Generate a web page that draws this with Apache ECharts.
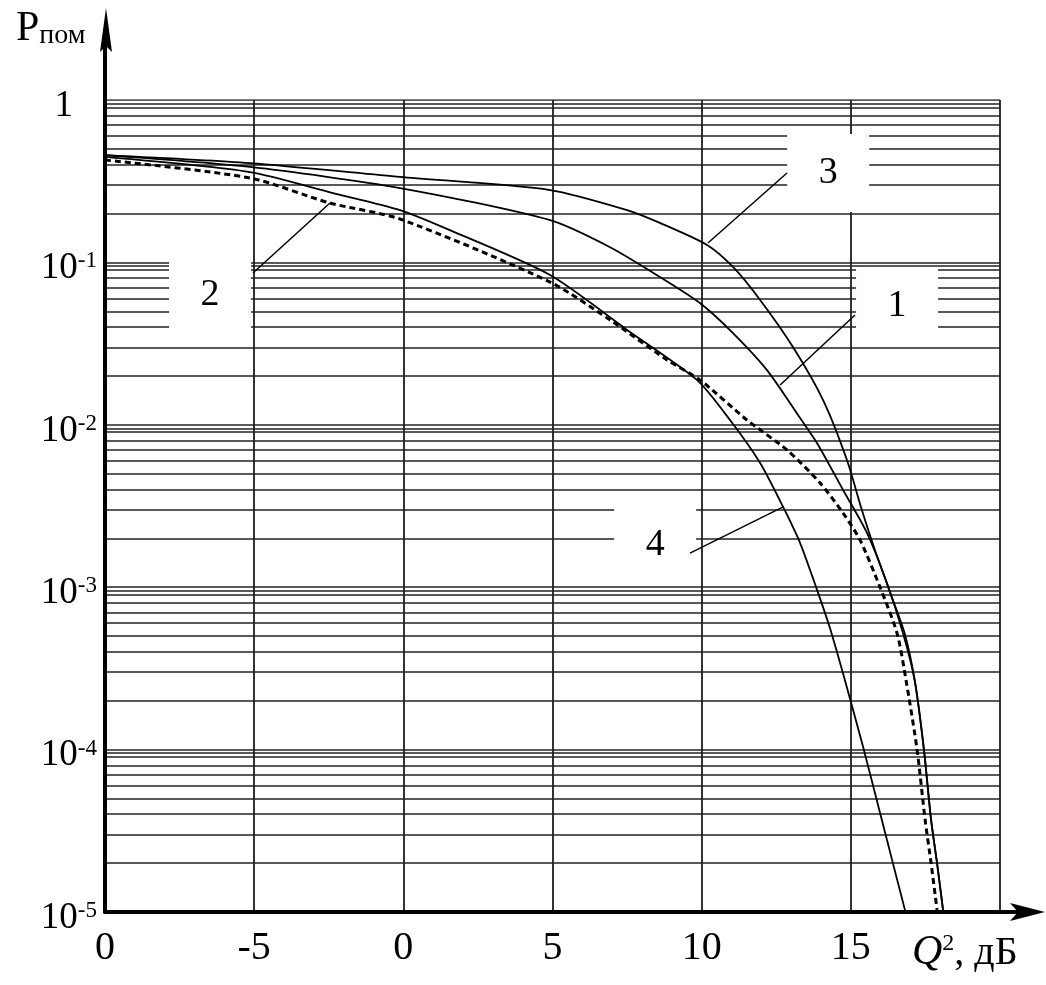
<!DOCTYPE html>
<html>
<head>
<meta charset="utf-8">
<script src="https://cdn.jsdelivr.net/npm/echarts@6/dist/echarts.min.js"></script>
<style>
  html, body { margin: 0; padding: 0; background: #fff; }
  #main { width: 1046px; height: 985px; }
</style>
</head>
<body>
<div id="main"></div>
<script>
// x ticks (as printed on the original, the first one is cut)
const xTickLabels = ['0', '-5', '0', '5', '10', '15', '']
const yTickLabels = ['10{s|-5}', '10{s|-4}', '10{s|-3}', '10{s|-2}', '10{s|-1}', '1{e|}']
const gridMultipliers = [2, 3, 4, 5, 6, 7, 8, 9, 9.5]

// curve 1 (solid, middle)
const curve1X = [-10, -5.14, -0.11, 4.92, 6.93, 8.6, 9.94, 11.05, 12.19, 13.3, 13.87, 14.74, 15.54, 16.21, 16.75, 17.15, 17.45, 17.69, 17.89, 18.09]
const curve1P = [0.458, 0.387, 0.287, 0.182, 0.124, 0.0813, 0.0562, 0.0367, 0.0217, 0.011, 0.0077, 0.00397, 0.00216, 0.00106, 5.2e-4, 2.61e-4, 1.0e-4, 3.69e-5, 2.0e-5, 1.03e-5]
// curve 2 (dashed)
const curve2X = [-10, -5.14, -2.46, -0.11, 4.92, 6.93, 8.84, 9.94, 11.52, 12.86, 13.97, 14.74, 15.31, 15.98, 16.55, 16.85, 17.22, 17.49, 17.69, 17.89]
const curve2P = [0.427, 0.331, 0.232, 0.185, 0.0757, 0.0442, 0.0251, 0.0189, 0.0107, 0.007, 0.00438, 0.00286, 0.00195, 0.001, 5.2e-4, 2.68e-4, 1.0e-4, 3.69e-5, 2.0e-5, 1.03e-5]
// curve 3 (solid, top)
const curve3X = [-10, -5.14, -0.11, 4.92, 7.5, 8.6, 10.18, 11.05, 11.96, 13.06, 14.07, 14.87, 15.37, 15.81, 16.41, 16.82, 17.15, 17.45, 17.69, 17.89, 18.09]
const curve3P = [0.458, 0.409, 0.336, 0.279, 0.21, 0.175, 0.128, 0.0937, 0.0587, 0.0301, 0.0142, 0.00607, 0.00299, 0.00169, 8.34e-4, 5.08e-4, 2.61e-4, 1.0e-4, 3.69e-5, 2.0e-5, 1.03e-5]
// curve 4 (solid, lowest)
const curve4X = [-10, -5.14, -2.36, -0.11, 1.56, 4.92, 7.5, 9.84, 10.95, 11.96, 12.73, 13.3, 13.87, 14.3, 14.8, 15.41, 15.98, 16.41, 16.82]
const curve4P = [0.446, 0.36, 0.2675, 0.21, 0.158, 0.0836, 0.0384, 0.0189, 0.0107, 0.00582, 0.00312, 0.00187, 9.6e-4, 5.6e-4, 2.68e-4, 1.04e-4, 4.07e-5, 2.0e-5, 1.02e-5]

// curve number boxes and their leader lines
const boxText = ['2', '3', '1', '4']
const boxX = [-6.48, 14.24, 16.55, 8.44]
const boxP = [0.063, 0.355, 0.0539, 0.00182]
const leaderFromX = [-5.04, 12.86, 15.14, 9.61]
const leaderFromP = [0.0861, 0.355, 0.0474, 0.00162]
const leaderToX = [-2.46, 10.21, 12.63, 12.73]
const leaderToP = [0.232, 0.1317, 0.0176, 0.00312]

const FONT = 'Liberation Serif'

const yGridValues = []
for (let e = -5; e <= 0; e++) {
  yGridValues.push(Math.pow(10, e))
  if (e < 0) {
    gridMultipliers.forEach(m => yGridValues.push(m * Math.pow(10, e)))
  }
}

const pairs = (xs, ps) => xs.map((x, i) => [x, ps[i]])

function curve(name, xs, ps, dashed) {
  return {
    name: name,
    type: 'line',
    z: 5,
    data: pairs(xs, ps),
    showSymbol: false,
    smooth: 0.25,
    silent: true,
    lineStyle: dashed
      ? { color: '#000', width: 3, type: [6, 4] }
      : { color: '#000', width: 1.8 }
  }
}

const chart = echarts.init(document.getElementById('main'))

chart.setOption({
  animation: false,
  backgroundColor: '#fff',
  grid: { left: 105, right: 46, top: 100, bottom: 73, containLabel: false },
  xAxis: {
    type: 'value',
    min: -10,
    max: 20,
    interval: 5,
    axisLine: { show: true, onZero: false, lineStyle: { color: '#000', width: 4 } },
    axisTick: { show: false },
    splitLine: { show: true, lineStyle: { color: '#333', width: 2 } },
    axisLabel: {
      margin: 16,
      fontFamily: FONT,
      fontSize: 40,
      color: '#000',
      formatter: v => xTickLabels[Math.round((v + 10) / 5)]
    }
  },
  yAxis: {
    type: 'log',
    logBase: 10,
    min: 1e-5,
    max: 1,
    interval: 1,
    axisLine: { show: true, onZero: false, lineStyle: { color: '#000', width: 4 } },
    axisTick: { show: false },
    splitLine: { show: false },
    axisLabel: {
      margin: 8,
      fontFamily: FONT,
      fontSize: 37,
      color: '#000',
      padding: [12, 0, 0, 0],
      formatter: v => yTickLabels[Math.round(Math.log10(v)) + 5],
      rich: {
        s: { fontFamily: FONT, fontSize: 23, verticalAlign: 'top', color: '#000', padding: [0, 0, 14, 0] },
        e: { width: 24 }
      }
    }
  },
  series: [
    {
      name: 'grid',
      type: 'lines',
      coordinateSystem: 'cartesian2d',
      z: 1,
      silent: true,
      lineStyle: { color: '#222', width: 1.6, opacity: 1 },
      data: yGridValues.map(v => ({ coords: [[-10, v], [20, v]] }))
    },
    {
      name: 'boxes',
      type: 'scatter',
      z: 3,
      silent: true,
      symbol: 'rect',
      symbolSize: [82, 78],
      itemStyle: { color: '#fff', opacity: 1 },
      label: {
        show: true,
        position: 'inside',
        fontFamily: FONT,
        fontSize: 38,
        color: '#000',
        formatter: p => p.name
      },
      data: boxX.map((x, i) => ({ name: boxText[i], value: [x, boxP[i]] }))
    },
    {
      name: 'leaders',
      type: 'lines',
      coordinateSystem: 'cartesian2d',
      z: 6,
      silent: true,
      lineStyle: { color: '#000', width: 1.5, opacity: 1 },
      data: leaderFromX.map((x, i) => ({
        coords: [[x, leaderFromP[i]], [leaderToX[i], leaderToP[i]]]
      }))
    },
    curve('1', curve1X, curve1P, false),
    curve('2', curve2X, curve2P, true),
    curve('3', curve3X, curve3P, false),
    curve('4', curve4X, curve4P, false)
  ]
})

// axis arrows and axis titles, placed from the grid corner
const o = chart.convertToPixel({ gridIndex: 0 }, [-10, 1e-5])
const ox = o[0], oy = o[1]
chart.setOption({
  graphic: [
    { type: 'line', z: 10, shape: { x1: ox, y1: oy, x2: ox, y2: 40 }, style: { stroke: '#000', lineWidth: 4 } },
    { type: 'polygon', z: 10, shape: { points: [[ox + 1, 8], [ox - 5, 52], [ox + 1, 46], [ox + 7, 52]] }, style: { fill: '#000' } },
    { type: 'line', z: 10, shape: { x1: ox, y1: oy, x2: 1030, y2: oy }, style: { stroke: '#000', lineWidth: 4 } },
    { type: 'polygon', z: 10, shape: { points: [[1045, oy], [1010, oy - 9], [1018, oy], [1010, oy + 9]] }, style: { fill: '#000' } },
    {
      type: 'text', z: 10, left: 16, top: 8,
      style: {
        text: 'P{s|пом}',
        font: '42px "Liberation Serif"',
        fill: '#000',
        rich: { s: { fontFamily: FONT, fontSize: 28, verticalAlign: 'bottom', fill: '#000', padding: [14, 0, 0, 0] } }
      }
    },
    {
      type: 'text', z: 10, left: 912, top: 932,
      style: {
        text: '{q|Q}{s|2}{t|, дБ}',
        fill: '#000',
        rich: {
          q: { fontFamily: FONT, fontSize: 42, fontStyle: 'italic', fill: '#000' },
          s: { fontFamily: FONT, fontSize: 24, verticalAlign: 'top', fill: '#000' },
          t: { fontFamily: FONT, fontSize: 40, fill: '#000' }
        }
      }
    }
  ]
})
</script>
</body>
</html>
